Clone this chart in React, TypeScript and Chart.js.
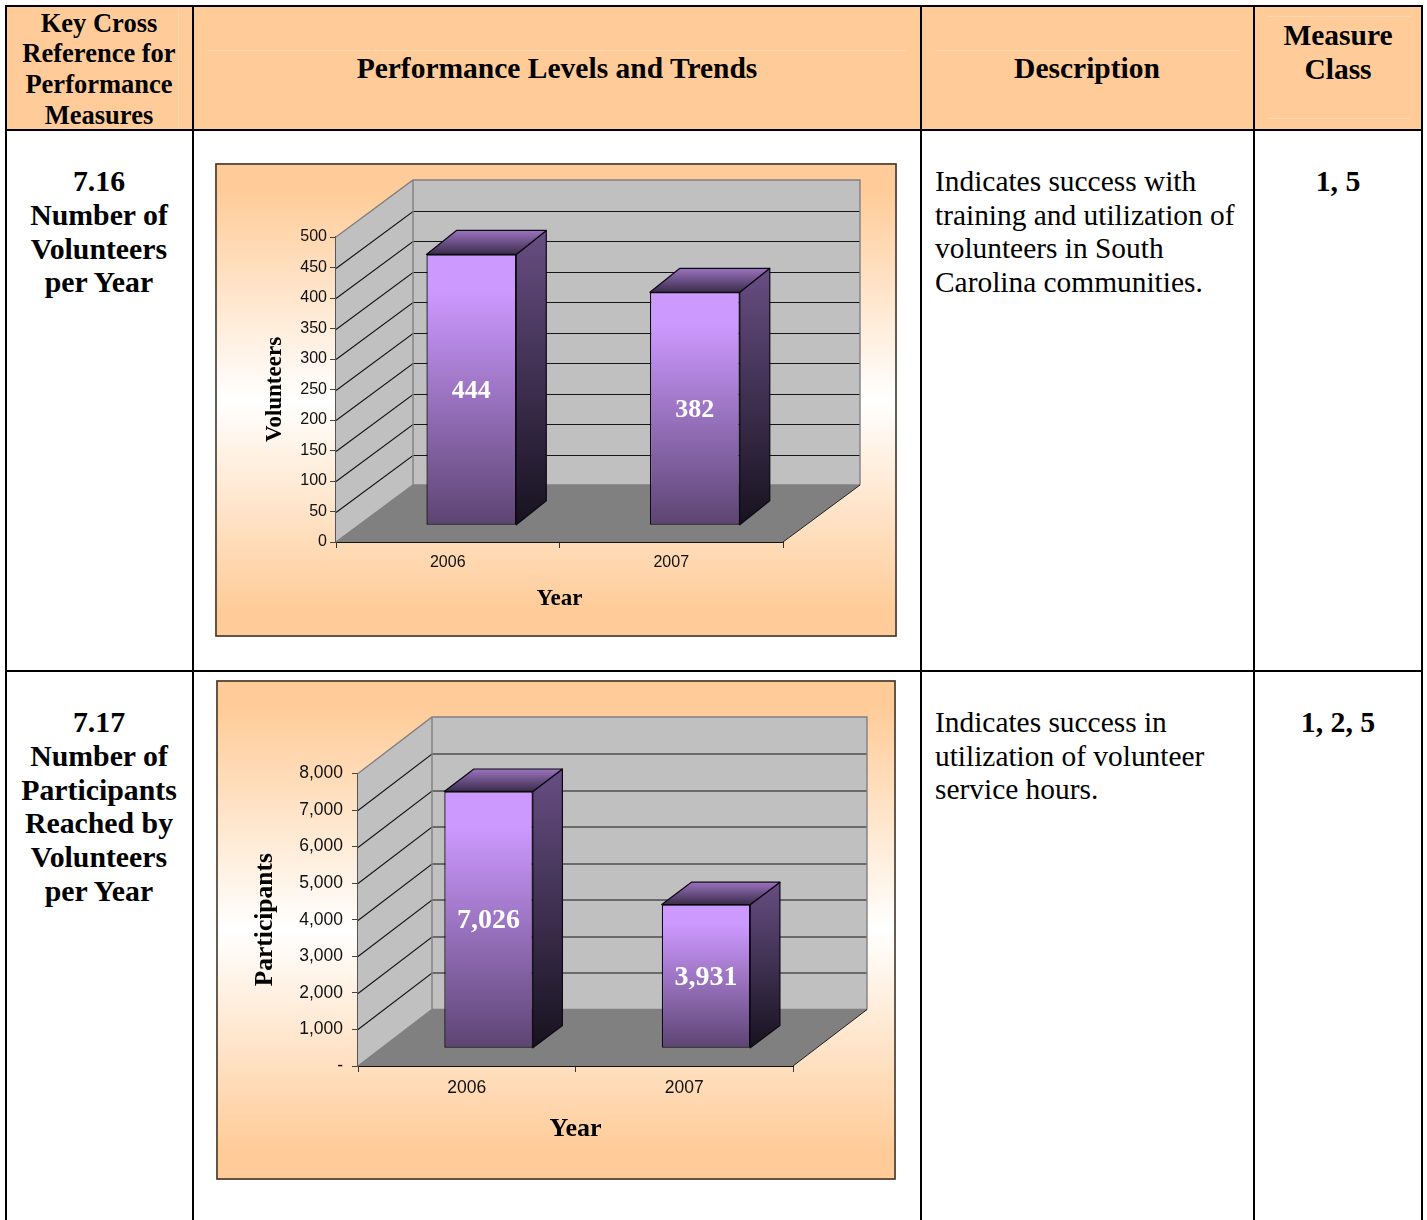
import React, { useEffect, useRef } from "react";
import { Chart, registerables } from "chart.js";

Chart.register(...registerables);

const SERIF = '"Liberation Serif"';
const SANS = '"Liberation Sans"';

const years = ["2006", "2007"];
const volunteers = [444, 382];
const participants = [7026, 3931];

const headerCells = [
  { cx: 99, size: 26.5, lines: [["Key Cross", 23], ["Reference for", 53], ["Performance", 84], ["Measures", 115]] },
  { cx: 557, size: 29.5, lines: [["Performance Levels and Trends", 68]] },
  { cx: 1087, size: 29.5, lines: [["Description", 68]] },
  { cx: 1338, size: 29.5, lines: [["Measure", 34.5], ["Class", 68.5]] },
];
const measureCells = [
  { cx: 99, lines: [["7.16", 181], ["Number of", 215], ["Volunteers", 249], ["per Year", 282]] },
  { cx: 99, lines: [["7.17", 722], ["Number of", 756], ["Participants", 790], ["Reached by", 823], ["Volunteers", 857], ["per Year", 891]] },
  { cx: 1338, lines: [["1, 5", 181]] },
  { cx: 1338, lines: [["1, 2, 5", 722]] },
];
const descriptionLines = [
  ["Indicates success with", 181],
  ["training and utilization of", 215],
  ["volunteers in South", 248],
  ["Carolina communities.", 282],
  ["Indicates success in", 722],
  ["utilization of volunteer", 756],
  ["service hours.", 789],
];

const verticalRules = [6, 193, 921, 1254, 1422];
const horizontalRules = [6, 130, 671];

function makeChart(canvas: HTMLCanvasElement, c: any) {
  const wall3d = {
    id: "wall3d",
    beforeDraw(chart: any) {
      const { ctx, width, height } = chart;
      const g = ctx.createLinearGradient(0, 0, 0, height);
      g.addColorStop(0, "#FFCC99");
      g.addColorStop(0.06, "#FFCC99");
      g.addColorStop(0.5, "#FFFFFF");
      g.addColorStop(0.94, "#FFCC99");
      g.addColorStop(1, "#FFCC99");
      ctx.save();
      ctx.fillStyle = g;
      ctx.fillRect(0, 0, width, height);
      ctx.strokeStyle = "#40362c";
      ctx.lineWidth = 1.6;
      ctx.strokeRect(1, 1, width - 2, height - 2);
      ctx.restore();
    },
    beforeDatasetsDraw(chart: any) {
      const { ctx, chartArea: a, scales } = chart;
      const { dx, dy } = c.depth;
      ctx.save();
      // floor
      ctx.fillStyle = "#808080";
      ctx.beginPath();
      ctx.moveTo(a.left, a.bottom);
      ctx.lineTo(a.left + dx, a.bottom - dy);
      ctx.lineTo(a.right + dx, a.bottom - dy);
      ctx.lineTo(a.right, a.bottom);
      ctx.closePath();
      ctx.fill();
      // back wall
      ctx.fillStyle = "#C0C0C0";
      ctx.fillRect(a.left + dx, a.top - dy, a.right - a.left, a.bottom - a.top);
      // side wall
      ctx.beginPath();
      ctx.moveTo(a.left, a.bottom);
      ctx.lineTo(a.left + dx, a.bottom - dy);
      ctx.lineTo(a.left + dx, a.top - dy);
      ctx.lineTo(a.left, a.top);
      ctx.closePath();
      ctx.fill();
      // grid lines from the axis ticks
      ctx.lineWidth = 1.1;
      ctx.strokeStyle = "#151515";
      scales.y.ticks.forEach((t: any) => {
        if (t.value === scales.y.min || t.value === scales.y.max) return;
        const y = Math.round(scales.y.getPixelForValue(t.value)) + 0.5;
        ctx.beginPath();
        ctx.moveTo(a.left, y);
        ctx.lineTo(a.left + dx, y - dy);
        ctx.lineTo(a.right + dx, y - dy);
        ctx.stroke();
      });
      // frame
      ctx.strokeStyle = "#808080";
      ctx.lineWidth = 1.4;
      ctx.beginPath();
      ctx.moveTo(a.left, a.top);
      ctx.lineTo(a.left + dx, a.top - dy);
      ctx.lineTo(a.right + dx, a.top - dy);
      ctx.lineTo(a.right + dx, a.bottom - dy);
      ctx.moveTo(a.left + dx, a.top - dy);
      ctx.lineTo(a.left + dx, a.bottom - dy);
      ctx.moveTo(a.left, a.bottom);
      ctx.lineTo(a.left + dx, a.bottom - dy);
      ctx.lineTo(a.right + dx, a.bottom - dy);
      ctx.stroke();
      ctx.strokeStyle = "#222";
      ctx.lineWidth = 1;
      ctx.beginPath();
      ctx.moveTo(a.right, a.bottom);
      ctx.lineTo(a.right + dx, a.bottom - dy);
      ctx.stroke();
      ctx.restore();
      // bars sit part-way into the depth
      ctx.save();
      ctx.translate(c.barShift.dx, -c.barShift.dy);
    },
    afterDatasetsDraw(chart: any) {
      const { ctx } = chart;
      ctx.restore();
      const { dx, dy } = c.barDepth;
      const sx = c.barShift.dx;
      const sy = c.barShift.dy;
      const meta = chart.getDatasetMeta(0);
      meta.data.forEach((el: any, i: number) => {
        const { x, y, base, width } = el.getProps(["x", "y", "base", "width"], true);
        const l = x - width / 2 + sx;
        const r = x + width / 2 + sx;
        const t = y - sy;
        const b = base - sy;
        ctx.save();
        ctx.strokeStyle = "#0d0814";
        ctx.lineWidth = 1.2;
        ctx.lineJoin = "round";
        // right side
        const gs = ctx.createLinearGradient(0, t - dy, 0, b);
        gs.addColorStop(0, "#674e83");
        gs.addColorStop(1, "#17121f");
        ctx.fillStyle = gs;
        ctx.beginPath();
        ctx.moveTo(r, t);
        ctx.lineTo(r + dx, t - dy);
        ctx.lineTo(r + dx, b - dy);
        ctx.lineTo(r, b);
        ctx.closePath();
        ctx.fill();
        ctx.stroke();
        // top
        const gt = ctx.createLinearGradient(0, t - dy, 0, t);
        gt.addColorStop(0, "#9b73bf");
        gt.addColorStop(1, "#3a2c4a");
        ctx.fillStyle = gt;
        ctx.beginPath();
        ctx.moveTo(l, t);
        ctx.lineTo(l + dx, t - dy);
        ctx.lineTo(r + dx, t - dy);
        ctx.lineTo(r, t);
        ctx.closePath();
        ctx.fill();
        ctx.stroke();
        // value label
        ctx.fillStyle = "#FFFFFF";
        ctx.font = `bold ${c.labelSize}px ${SERIF}`;
        ctx.textAlign = "center";
        ctx.textBaseline = "middle";
        ctx.fillText(c.values[i].toLocaleString("en-US"), (l + r) / 2, (t + b) / 2 + 1.5);
        ctx.restore();
      });
    },
  };

  const fixBox = (size: number, key: "width" | "height") => (scale: any) => {
    scale[key] = size;
    scale.paddingLeft = scale.paddingRight = scale.paddingTop = scale.paddingBottom = 0;
  };

  return new Chart(canvas, {
    type: "bar",
    data: {
      labels: years,
      datasets: [
        {
          data: c.values,
          barPercentage: c.barFrac,
          categoryPercentage: 1,
          borderWidth: 1.3,
          borderColor: "#0d0814",
          borderSkipped: false,
          clip: false,
          backgroundColor: (ctx: any) => {
            const chart = ctx.chart;
            const y = chart.scales && chart.scales.y;
            if (!chart.chartArea || !y || !ctx.parsed) return "#9470B8";
            const top = y.getPixelForValue(ctx.parsed.y);
            const bottom = y.getPixelForValue(0);
            const g = chart.ctx.createLinearGradient(0, top, 0, bottom);
            g.addColorStop(0, "#CC99FF");
            g.addColorStop(0.14, "#CC99FF");
            g.addColorStop(1, "#5C4472");
            return g;
          },
        },
      ],
    },
    options: {
      animation: false,
      responsive: false,
      devicePixelRatio: 1,
      layout: { padding: { left: 0, right: c.right, top: c.top, bottom: 0 } },
      plugins: { legend: { display: false }, tooltip: { enabled: false }, title: { display: false } },
      scales: {
        x: {
          type: "category",
          z: 1,
          afterFit: fixBox(c.bottom, "height"),
          grid: { offset: true, drawOnChartArea: false, drawTicks: true, tickLength: 6, tickColor: "#333", color: "#333" },
          border: { display: true, color: "#111", width: 1 },
          ticks: { maxRotation: 0, minRotation: 0, color: "#111", padding: c.xTickPad, font: { family: SANS, size: c.tickSize } },
          title: { display: true, text: "Year", color: "#000", padding: { top: 0, bottom: c.xTitlePad }, font: { family: SERIF, size: c.xTitleSize, weight: "bold" } },
        },
        y: {
          type: "linear",
          z: 1,
          min: 0,
          max: c.max,
          afterFit: fixBox(c.left, "width"),
          grid: { drawOnChartArea: false, drawTicks: true, tickLength: 6, tickColor: "#444", color: "#444" },
          border: { display: true, color: "#555", width: 1.4 },
          ticks: {
            stepSize: c.step,
            autoSkip: false,
            color: "#111",
            padding: c.yTickPad,
            font: { family: SANS, size: c.tickSize },
            callback: c.tickFmt,
          },
          title: { display: true, text: c.yTitle, color: "#000", padding: { top: c.yTitlePad, bottom: 0 }, font: { family: SERIF, size: c.yTitleSize, weight: "bold" } },
        },
      },
    },
    plugins: [wall3d],
  } as any);
}

const chartA = {
  values: volunteers,
  yTitle: "Volunteers",
  max: 500,
  step: 50,
  tickFmt: (v: number) => String(v),
  left: 121,
  right: 114,
  top: 74,
  bottom: 95,
  depth: { dx: 77, dy: 57 },
  barShift: { dx: 23.6, dy: 16.7 },
  barDepth: { dx: 30, dy: 24 },
  barFrac: 0.402,
  labelSize: 26,
  tickSize: 16,
  xTickPad: 5,
  yTickPad: 3,
  xTitleSize: 23,
  yTitleSize: 23,
  xTitlePad: 24,
  yTitlePad: 46,
};

const chartB = {
  values: participants,
  yTitle: "Participants",
  max: 8000,
  step: 1000,
  tickFmt: (v: number) => (v === 0 ? "-" : v.toLocaleString("en-US")),
  left: 142,
  right: 103,
  top: 93.5,
  bottom: 114,
  depth: { dx: 74, dy: 56.5 },
  barShift: { dx: 21.8, dy: 17.7 },
  barDepth: { dx: 29.6, dy: 22.4 },
  barFrac: 0.407,
  labelSize: 28,
  tickSize: 17.5,
  xTickPad: 6,
  yTickPad: 9,
  xTitleSize: 26,
  yTitleSize: 25.5,
  xTitlePad: 35,
  yTitlePad: 34.5,
};

function ChartBox({ cfg, left, top, width, height }: any) {
  const ref = useRef<HTMLCanvasElement | null>(null);
  useEffect(() => {
    const ch = makeChart(ref.current as HTMLCanvasElement, cfg);
    return () => ch.destroy();
  }, [cfg]);
  return (
    <canvas
      ref={ref}
      width={width}
      height={height}
      style={{ position: "absolute", left, top, width, height, display: "block" }}
    />
  );
}

function Line({ text, cx, x, y, size, bold }: any) {
  const base: any = {
    position: "absolute",
    top: y - 20,
    height: 40,
    lineHeight: "40px",
    fontSize: size,
    fontFamily: SERIF,
    fontWeight: bold ? "bold" : "normal",
    whiteSpace: "nowrap",
    color: "#000",
  };
  if (cx !== undefined) {
    base.left = cx - 300;
    base.width = 600;
    base.textAlign = "center";
  } else {
    base.left = x;
  }
  return <div style={base}>{text}</div>;
}

export default function App() {
  return (
    <div style={{ position: "absolute", left: 0, top: 0, width: 1427, height: 1220, overflow: "hidden", background: "#fff" }}>
      <div style={{ position: "absolute", left: 6, top: 6, width: 1416, height: 124, background: "#FFCC99" }} />
      {[
        { left: 207, top: 50, width: 699, height: 1 },
        { left: 935, top: 50, width: 305, height: 1 },
        { left: 1268, top: 16, width: 142, height: 1 },
        { left: 1268, top: 118, width: 142, height: 1 },
        { left: 178, top: 8, width: 1, height: 120 },
      ].map((s, i) => (
        <div key={i} style={{ position: "absolute", background: "#FFD7AE", ...s }} />
      ))}
      {verticalRules.map((x) => (
        <div key={x} style={{ position: "absolute", left: x - 1, top: 5, width: 2, height: 1215, background: "#000" }} />
      ))}
      {horizontalRules.map((y) => (
        <div key={y} style={{ position: "absolute", left: 5, top: y - 1, width: 1418, height: 2, background: "#000" }} />
      ))}
      {headerCells.map((c, i) =>
        c.lines.map((l: any) => <Line key={`${i}${l[0]}`} text={l[0]} cx={c.cx} y={l[1]} size={c.size} bold />)
      )}
      {measureCells.map((c, i) =>
        c.lines.map((l: any) => <Line key={`${i}${l[0]}`} text={l[0]} cx={c.cx} y={l[1]} size={29.8} bold />)
      )}
      {descriptionLines.map((l: any) => (
        <Line key={l[0]} text={l[0]} x={935} y={l[1]} size={29.4} />
      ))}
      <ChartBox cfg={chartA} left={215} top={163} width={682} height={474} />
      <ChartBox cfg={chartB} left={216} top={680} width={680} height={500} />
    </div>
  );
}
